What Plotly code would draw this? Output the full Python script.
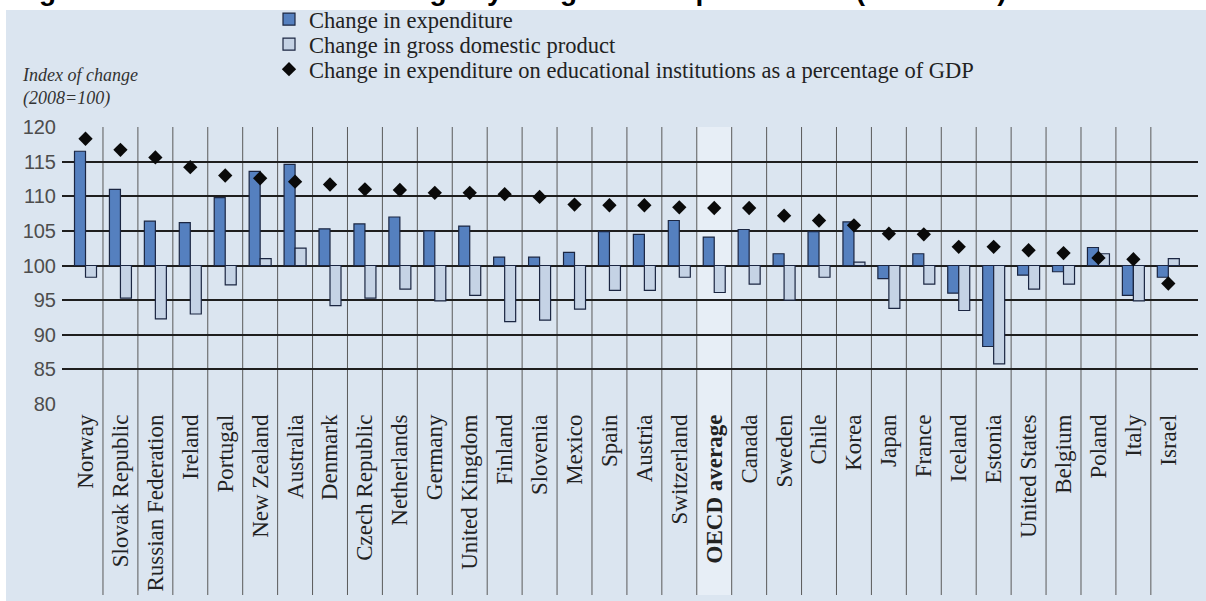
import plotly.graph_objects as go

countries = ["Norway", "Slovak Republic", "Russian Federation", "Ireland", "Portugal",
             "New Zealand", "Australia", "Denmark", "Czech Republic", "Netherlands",
             "Germany", "United Kingdom", "Finland", "Slovenia", "Mexico", "Spain",
             "Austria", "Switzerland", "OECD average", "Canada", "Sweden", "Chile",
             "Korea", "Japan", "France", "Iceland", "Estonia", "United States",
             "Belgium", "Poland", "Italy", "Israel"]

expenditure = [116.5, 111.0, 106.4, 106.2, 109.8, 113.6, 114.6, 105.3, 106.0, 107.0,
               105.0, 105.7, 101.2, 101.2, 101.9, 104.9, 104.5, 106.5, 104.1, 105.2,
               101.7, 104.9, 106.3, 98.1, 101.7, 96.0, 88.3, 98.6, 99.1, 102.6,
               95.7, 98.3]

gdp = [98.3, 95.3, 92.3, 93.0, 97.2, 101.0, 102.5, 94.2, 95.3, 96.6,
       94.9, 95.7, 91.9, 92.1, 93.7, 96.4, 96.4, 98.3, 96.1, 97.3,
       95.0, 98.3, 100.5, 93.8, 97.3, 93.5, 85.8, 96.6, 97.3, 101.7,
       94.9, 101.0]

share_gdp = [118.3, 116.7, 115.6, 114.2, 113.0, 112.6, 112.1, 111.7, 111.0, 110.9,
             110.5, 110.5, 110.3, 109.9, 108.8, 108.7, 108.7, 108.4, 108.3, 108.3,
             107.2, 106.5, 105.8, 104.6, 104.5, 102.7, 102.7, 102.2, 101.8, 101.1,
             100.9, 97.4]

y_ticks = [80, 85, 90, 95, 100, 105, 110, 115, 120]
base_value = 100
highlight = "OECD average"

W, H = 1206, 601
PANEL = "#dbe5f0"
BLUE = "#5580bf"
LIGHT = "#c5d3e5"
EDGE = "#1b2642"
SERIF = "Liberation Serif"
SANS = "Liberation Sans"

idx = list(range(len(countries)))
tick_text = [f"<b>{c}</b>" if c == highlight else c for c in countries]

fig = go.Figure()
fig.add_trace(go.Bar(
    x=idx, y=[v - base_value for v in expenditure], base=base_value,
    name="Change in expenditure", offsetgroup="a", legend="legend",
    marker=dict(color=BLUE, line=dict(color=EDGE, width=1.2)),
))
fig.add_trace(go.Bar(
    x=idx, y=[v - base_value for v in gdp], base=base_value,
    name="Change in gross domestic product", offsetgroup="b", legend="legend2",
    marker=dict(color=LIGHT, line=dict(color=EDGE, width=1.2)),
))
fig.add_trace(go.Scatter(
    x=idx, y=share_gdp, mode="markers", legend="legend3",
    name="Change in expenditure on educational institutions as a percentage of GDP",
    marker=dict(symbol="diamond", size=11, color="#0a0a0a"),
))

y0p = (H - 404) / H
y1p = (H - 127) / H

shapes = [
    dict(type="rect", xref="paper", yref="paper", x0=6 / W, x1=1, y0=0, y1=1 - 10 / H,
         fillcolor=PANEL, line=dict(width=0), layer="below"),
]
hi = countries.index(highlight)
shapes.append(dict(type="rect", xref="x", yref="paper", x0=hi - 0.5, x1=hi + 0.5,
                   y0=6 / H, y1=y1p, fillcolor="#e7eef6", line=dict(width=0),
                   layer="below"))
for i in idx[:-1]:
    shapes.append(dict(type="line", xref="x", yref="paper", x0=i + 0.5, x1=i + 0.5,
                       y0=6 / H, y1=y1p, line=dict(color="#5a5a5a", width=1),
                       layer="below"))

annotations = [
    dict(text="Figure B2.3. Trends in net change by the growth of per student (2008-2011)",
         xref="paper", yref="paper", x=12 / W, y=1 + 10 / H, xanchor="left",
         yanchor="middle", showarrow=False,
         font=dict(family=SANS, size=28, color="#000000", weight="bold")),
    dict(text="<i>Index of change</i><br><i>(2008=100)</i>",
         xref="paper", yref="paper", x=20 / W, y=(H - 87) / H, xanchor="left",
         yanchor="middle", showarrow=False, align="left",
         font=dict(family=SERIF, size=18, color="#333333")),
]

leg_common = dict(x=269 / W, xanchor="left", yanchor="top", bgcolor="rgba(0,0,0,0)",
                  font=dict(family=SERIF, size=22.5, color="#222222"), itemwidth=30)

fig.update_layout(
    width=W, height=H,
    margin=dict(l=0, r=0, t=0, b=0, autoexpand=False),
    paper_bgcolor="#ffffff",
    plot_bgcolor="rgba(0,0,0,0)",
    barmode="group", bargap=0.37, bargroupgap=0,
    showlegend=True,
    legend=dict(y=1 + 2 / H, **leg_common),
    legend2=dict(y=1 - 23 / H, **leg_common),
    legend3=dict(y=1 - 48 / H, **leg_common),
    shapes=shapes,
    annotations=annotations,
    xaxis=dict(domain=[62 / W, 1198 / W], range=[-0.673, 31.85],
               tickmode="array", tickvals=idx, ticktext=tick_text, tickangle=-90,
               showgrid=False, zeroline=False, showline=False, ticks="",
               ticklabelstandoff=5, automargin=False,
               tickfont=dict(family=SERIF, size=23, color="#222222")),
    yaxis=dict(domain=[y0p, y1p], range=[80, 120], tickmode="array", tickvals=y_ticks,
               showgrid=True, gridcolor="#1e1e1e", gridwidth=1.6, zeroline=False,
               showline=False, ticks="", ticklabelstandoff=5, automargin=False,
               tickfont=dict(family=SANS, size=20, color="#4d4d4d")),
)

fig.write_html("out.html", config={"displayModeBar": False},
               post_script="document.body.style.margin='0';document.body.style.overflow='hidden';")
